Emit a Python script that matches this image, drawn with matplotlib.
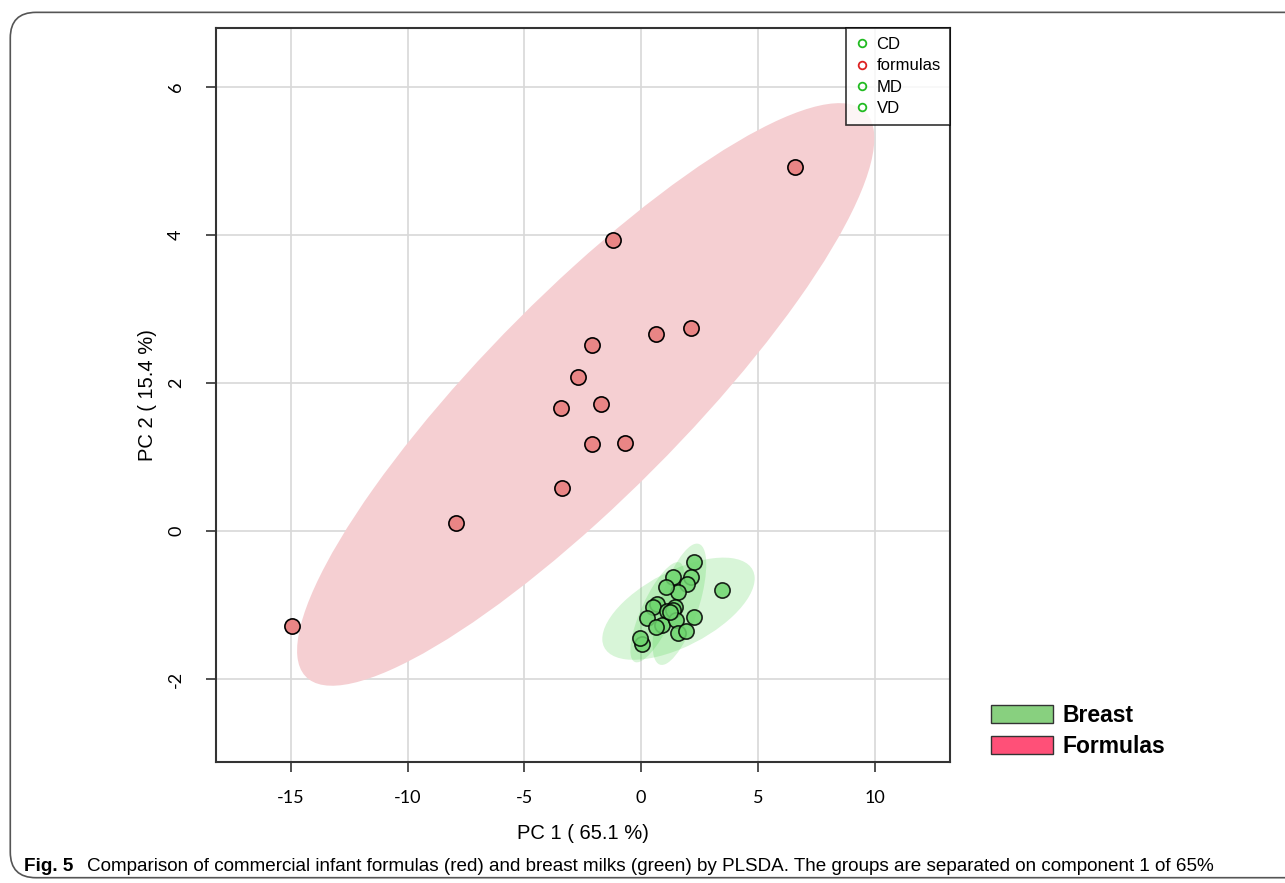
import numpy as np
import matplotlib
matplotlib.use("Agg")
import matplotlib.pyplot as plt
from matplotlib.patches import Ellipse, Patch, FancyBboxPatch
from matplotlib.lines import Line2D

plt.rcParams['font.family'] = ['Liberation Sans', 'DejaVu Sans']
plt.rcParams['axes.unicode_minus'] = False

# Данные: оценки PLSDA (компонента 1 и 2)
formula_x = [6.60, -1.20, 2.14, 0.64, -2.10, -2.70, -1.71, -3.43, -2.10, -0.69, -3.38, -7.92, -14.95]
formula_y = [4.92, 3.93, 2.74, 2.66, 2.51, 2.09, 1.72, 1.66, 1.18, 1.19, 0.59, 0.11, -1.28]

cd_x = [1.36, 0.70, 0.53, 0.24, 1.10, 0.89, 0.03]
cd_y = [-0.62, -0.99, -1.02, -1.17, -1.08, -1.27, -1.52]
md_x = [2.28, 2.13, 1.98, 1.57, 1.46, 1.36, 1.50, 1.57, 1.93, 0.64]
md_y = [-0.41, -0.62, -0.71, -0.82, -1.02, -1.07, -1.20, -1.38, -1.35, -1.30]
vd_x = [3.48, 2.28, -0.04, 1.24, 1.06]
vd_y = [-0.80, -1.16, -1.44, -1.09, -0.75]

x_ticks = [-15, -10, -5, 0, 5, 10]
y_ticks = [-2, 0, 2, 4, 6]
legend_groups = ["CD", "formulas", "MD", "VD"]

red_fill = "#e98585"
red_ell = "#f5cfd2"
green_fill = "#6fd66f"
green_ell = "#3ccf3c"


# 95% доверительный эллипс по ковариации группы
def conf_ellipse(ax, x, y, color, alpha):
    x = np.asarray(x)
    y = np.asarray(y)
    cov = np.cov(x, y)
    vals, vecs = np.linalg.eigh(cov)
    order = vals.argsort()[::-1]
    vals, vecs = vals[order], vecs[:, order]
    angle = np.degrees(np.arctan2(vecs[1, 0], vecs[0, 0]))
    k = np.sqrt(5.991)
    w, h = 2 * k * np.sqrt(vals)
    e = Ellipse((x.mean(), y.mean()), w, h, angle=angle, facecolor=color,
                edgecolor="none", alpha=alpha, zorder=1)
    ax.add_patch(e)


fig = plt.figure(figsize=(12.85, 8.83), dpi=100)
ax = fig.add_axes([0.1681, 0.1370, 0.5712, 0.8313])

ax.set_xlim(-18.2, 13.23)
ax.set_ylim(-3.12, 6.80)
ax.set_xticks(x_ticks)
ax.set_yticks(y_ticks)
ax.grid(True, color="#d8d8d8", linewidth=1.2, zorder=0)
ax.set_axisbelow(True)

conf_ellipse(ax, formula_x, formula_y, red_ell, 1.0)
for gx, gy in [(cd_x, cd_y), (md_x, md_y), (vd_x, vd_y)]:
    conf_ellipse(ax, gx, gy, green_ell, 0.2)

ax.scatter(formula_x, formula_y, s=120, facecolor=red_fill, edgecolor="black",
           linewidth=1.2, zorder=3)
for gx, gy in [(cd_x, cd_y), (md_x, md_y), (vd_x, vd_y)]:
    ax.scatter(gx, gy, s=120, facecolor=green_fill, edgecolor="black",
               linewidth=1.2, zorder=3, alpha=0.85)

for sp in ax.spines.values():
    sp.set_color("#333333")
    sp.set_linewidth(1.5)
ax.tick_params(direction="out", length=7, width=1.2, color="#333333",
               labelsize=13)
ax.tick_params(axis="x", pad=13)
ax.tick_params(axis="y", pad=16)
for lab in ax.get_xticklabels() + ax.get_yticklabels():
    lab.set_family(["Lato", "DejaVu Sans"])
for lab in ax.get_yticklabels():
    lab.set_rotation(90)
    lab.set_va("center")

ax.set_xlabel("PC 1 ( 65.1 %)", fontsize=14.5, labelpad=13)
ax.set_ylabel("PC 2 ( 15.4 %)", fontsize=14.5, labelpad=8)

# легенда групп в углу
leg_colors = ["#22bb22", "#dd2222", "#22bb22", "#22bb22"]
handles = [Line2D([], [], marker="o", linestyle="none", markerfacecolor="none",
                  markeredgecolor=c, markeredgewidth=1.3, markersize=5.5)
           for c in leg_colors]
leg = ax.legend(handles, legend_groups, loc="upper right", borderaxespad=0,
                fontsize=12, frameon=True, fancybox=False, handletextpad=0.4,
                handlelength=0.9, labelspacing=0.38, borderpad=0.55)
leg.get_frame().set_edgecolor("black")
leg.get_frame().set_linewidth(1.2)

# дополнительная легенда Breast / Formulas
patches = [Patch(facecolor="#88d07f", edgecolor="#333333", label="Breast"),
           Patch(facecolor="#ff5078", edgecolor="#333333", label="Formulas")]
fig.legend(handles=patches, loc="upper left", bbox_to_anchor=(0.755, 0.226),
           frameon=False, prop={"weight": "bold", "size": 16.5},
           handlelength=2.7, handleheight=0.8, handletextpad=0.45,
           labelspacing=0.35)

# рамка и подпись рисунка
box = FancyBboxPatch((0.008, 0.006), 1.1, 0.98, transform=fig.transFigure,
                     boxstyle="round,pad=0,rounding_size=0.02", facecolor="none",
                     edgecolor="#555555", linewidth=1.2, mutation_aspect=1.45)
fig.patches.append(box)

fig.text(0.019, 0.014, "Fig. 5", fontsize=13.6, weight="bold")
fig.text(0.068, 0.014,
         "Comparison of commercial infant formulas (red) and breast milks (green) "
         "by PLSDA. The groups are separated on component 1 of 65%",
         fontsize=13.6)

fig.savefig("out.png", dpi=100)
